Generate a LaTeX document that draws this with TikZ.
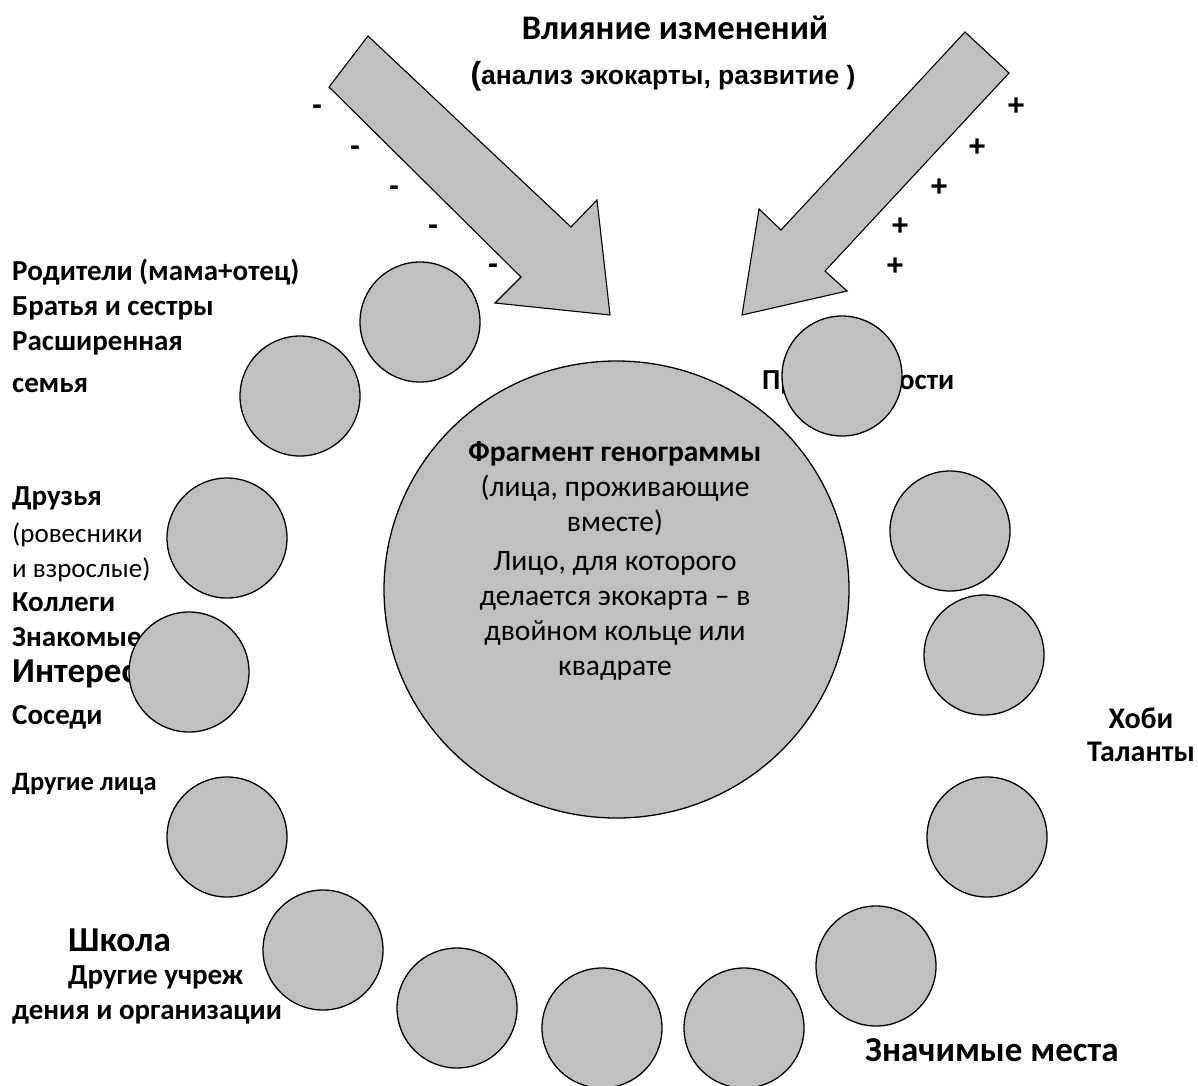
\documentclass[tikz,border=0pt]{standalone}
\usepackage{fontspec}
\usetikzlibrary{shapes.geometric}
\setmainfont{Carlito}
\newfontfamily\arialf{Liberation Sans}
\begin{document}
\begin{tikzpicture}[x=1pt,y=-1pt,
  bub/.style={circle,draw=black,fill=bubgray,line width=1.3pt,minimum size=120pt,inner sep=0pt},
  blk/.style={draw=black,fill=bubgray,line width=1.1pt,line join=miter},
  lbl/.style={inner sep=0pt,anchor=west,font=\fontsize{29}{33}\selectfont\bfseries},
  lblr/.style={inner sep=0pt,anchor=west,font=\fontsize{27}{31}\selectfont},
  big/.style={inner sep=0pt,anchor=west,font=\fontsize{35}{39}\selectfont\bfseries},
  sign/.style={inner sep=0pt,font=\arialf\fontsize{30}{34}\selectfont\bfseries}]
\definecolor{bubgray}{RGB}{192,192,192}
\useasboundingbox[fill=white] (0,0) rectangle (1198,1085);

% title
\node[inner sep=0pt,font=\fontsize{34.5}{38}\selectfont\bfseries] (title) at (675,28) {Влияние изменений};
\node[inner sep=0pt,font=\arialf\bfseries] (subtitle) at (663,76) {{\fontsize{32}{34}\selectfont(}{\fontsize{26.5}{30}\selectfont анализ экокарты, развитие )}};

% arrows
\draw[blk] (368,36) -- (571,227) -- (597,200) -- (610,315) -- (495,303) -- (521,277) -- (329,87) -- cycle;
\draw[blk] (965,32) -- (1009,73) -- (825,271) -- (847,291) -- (742,315) -- (759,209) -- (781,230) -- cycle;

% signs
\node[sign] (m1) at (317,110) {-};
\node[sign] (m2) at (355,151) {-};
\node[sign] (m3) at (394,191) {-};
\node[sign] (m4) at (433,230) {-};
\node[sign] (m5) at (493,269) {-};
\node[sign] (p1) at (1016,107) {+};
\node[sign] (p2) at (977,148) {+};
\node[sign] (p3) at (939,188) {+};
\node[sign] (p4) at (900,227) {+};
\node[sign] (p5) at (895,267) {+};

% left labels
\node[lbl] (t1) at (12,272) {Родители (мама+отец)};
\node[lbl] (t2) at (12,308) {Братья и сестры};
\node[lbl] (t3) at (12,343) {Расширенная};
\node[lbl] (t4) at (12,385) {семья};
\node[lbl] (t5) at (12,498) {Друзья};
\node[lblr] (t6) at (12,535) {(ровесники};
\node[lblr] (t7) at (12,570) {и взрослые)};
\node[lbl] (t8) at (12,602) {Коллеги};
\node[lbl] (t9) at (12,637) {Знакомые};
\node[big] (t10) at (12,674) {Интересы};
\node[lbl] (t11) at (12,717) {Соседи};
\node[lbl,font=\fontsize{26.5}{30}\selectfont\bfseries] (t12) at (12,784) {Другие лица};
\node[big] (t13) at (68,940) {Школа};
\node[lbl] (t14) at (68,977) {Другие учреж};
\node[lbl] (t15) at (12,1015) {дения и организации};
\node[big] (t16) at (865,1050) {Значимые места};
\node[inner sep=0pt,font=\fontsize{30}{34}\selectfont\bfseries] (t17) at (1141,718) {Хоби};
\node[inner sep=0pt,font=\fontsize{30}{34}\selectfont\bfseries] (t17b) at (1141,752) {Таланты};
\node[lbl] (t18) at (762,382) {Привязанности};

% big ellipse
\node[ellipse,draw=black,fill=bubgray,line width=1.3pt,minimum width=465pt,minimum height=457pt,inner sep=0pt] (core) at (616.5,589.5) {};
\node[inner sep=0pt,align=center,font=\fontsize{29.5}{35}\selectfont] (coretext) at (615,561)
 {{\bfseries Фрагмент генограммы}\\(лица, проживающие\\вместе)\\[4pt]Лицо, для которого\\делается экокарта – в\\двойном кольце или\\квадрате};

% small circles
\node[bub] (c1) at (420,322) {};
\node[bub] (c2) at (300,396) {};
\node[bub] (c3) at (227,538) {};
\node[bub] (c4) at (189,672) {};
\node[bub] (c5) at (227,837) {};
\node[bub] (c6) at (323,950) {};
\node[bub] (c7) at (457,1008) {};
\node[bub] (c8) at (602,1028) {};
\node[bub] (c9) at (744,1028) {};
\node[bub] (c10) at (876,966) {};
\node[bub] (c11) at (987,837) {};
\node[bub] (c12) at (984,655) {};
\node[bub] (c13) at (950,531) {};
\node[bub] (c14) at (842,376) {};
\end{tikzpicture}
\end{document}
